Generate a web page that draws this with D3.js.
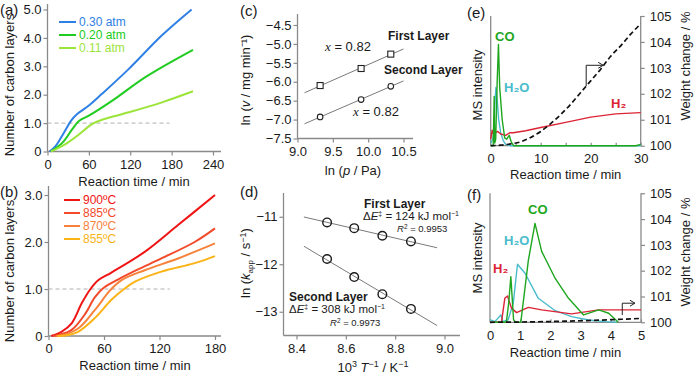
<!DOCTYPE html>
<html lang="en">
<head>
<meta charset="UTF-8">
<title>Carbon layer growth</title>
<style>
  body { margin: 0; background: #fff; }
  svg { display: block; font-family: "Liberation Sans", Arial, Helvetica, sans-serif; }
</style>
<script src="https://cdn.jsdelivr.net/npm/d3@7"></script>
</head>
<body>
<svg width="694" height="374"></svg>
<script>
// ---- (a) layers vs time at different pressures ----
var pressureLabels = ["0.30 atm", "0.20 atm", "0.11 atm"];
var layers030 = [[3,0],[12,0.2],[24,0.67],[34,1.08],[43,1.32],[60,1.62],[79,2.03],[118,2.91],[166,4.09],[209,5.0]];
var layers020 = [[5,0],[22,0.32],[36,0.79],[46,1.08],[60,1.26],[94,1.79],[142,2.62],[211,3.58]];
var layers011 = [[5,0],[26,0.26],[46,0.61],[65,0.97],[79,1.12],[118,1.38],[166,1.73],[211,2.12]];
var ticksA_x = [0, 60, 120, 180, 240];
var ticksA_y = [0, 1, 2, 3, 4, 5];

// ---- (b) layers vs time at different temperatures ----
var tempLabels = ["900\u00baC", "885\u00baC", "870\u00baC", "855\u00baC"];
var layers900 = [[3,0],[14,0.09],[25,0.27],[36,0.7],[45,0.99],[54,1.19],[68,1.35],[104,1.79],[140,2.36],[180,3.0]];
var layers885 = [[5,0],[11,0.02],[25,0.13],[40,0.48],[50,0.82],[60,1.03],[75,1.2],[95,1.4],[122,1.65],[158,2.0],[180,2.29]];
var layers870 = [[8,0],[14,0.01],[32,0.16],[50,0.55],[67,0.98],[79,1.19],[104,1.40],[140,1.65],[180,1.97]];
var layers855 = [[10,0],[18,0.01],[32,0.09],[50,0.38],[68,0.77],[81,0.99],[94,1.16],[122,1.37],[158,1.55],[180,1.70]];
var ticksB_x = [0, 60, 120, 180];
var ticksB_y = [0, 1, 2, 3];

// ---- (c) ln rate vs ln p ----
var lnP = [9.32, 9.9, 10.32];
var lnVFirst = [-6.1, -5.65, -5.27];
var lnVSecond = [-6.93, -6.47, -6.12];
var ticksC_x = [9.0, 9.5, 10.0, 10.5];
var ticksC_y = [-4.5, -5.0, -5.5, -6.0, -6.5, -7.0, -7.5];

// ---- (d) Arrhenius ----
var invT = [8.524, 8.634, 8.748, 8.864];
var lnKFirst = [-11.12, -11.24, -11.4, -11.52];
var lnKSecond = [-11.89, -12.27, -12.63, -12.94];
var ticksD_x = [8.4, 8.6, 8.8, 9.0];
var ticksD_y = [-11, -12, -13];

// ---- (e) MS + TG, 0-30 min (MS values as fraction of axis height) ----
var weightE = [[0,100],[2,100.02],[4,100.07],[6,100.15],[8,100.32],[10,100.55],[12,100.85],[14,101.2],[16,101.6],[18,102.05],[20,102.5],[22,102.95],[24,103.45],[26,103.85],[28,104.3],[30,104.7]];
var coE = [[0,0],[0.5,0],[0.7,0.38],[0.8,0.02],[1.0,0.05],[1.3,0.5],[1.55,0.78],[1.8,0.45],[2.3,0.2],[2.8,0.06],[3.2,0.05],[3.7,0.08],[4.1,0.03],[4.6,0],[29,0],[30,0.01]];
var h2oE = [[0,0.02],[0.4,0.05],[0.6,0.1],[0.8,0.3],[1.05,0.45],[1.3,0.35],[1.6,0.2],[2,0.1],[2.5,0.04],[3,0.01],[4,0],[30,0]];
var h2E = [[0,0.05],[0.3,0.12],[0.6,0.08],[1,0.1],[1.4,0.11],[2,0.09],[3,0.08],[3.8,0.1],[4.5,0.1],[7,0.115],[10,0.14],[15,0.18],[20,0.22],[25,0.245],[30,0.255]];

// ---- (f) MS + TG, 0-5 min ----
var weightF = [[0,100],[1,100.01],[2,100.03],[3,100.06],[4,100.1],[5,100.15]];
var coF = [[0,0],[0.54,0],[0.62,0.15],[0.69,0.354],[0.78,0.02],[0.85,0],[1.02,0],[1.27,0.48],[1.49,0.767],[1.71,0.55],[2.16,0.34],[2.6,0.186],[3.1,0.057],[3.6,0.096],[3.93,0.07],[4.25,0]];
var h2oF = [[0,0.02],[0.16,0.005],[0.36,0.057],[0.43,0.005],[0.6,0.02],[0.77,0.147],[0.91,0.45],[1.16,0.38],[1.6,0.186],[2.16,0.09],[2.7,0.044],[3.27,0.018],[3.8,0.005],[4.2,0]];
var h2F = [[0,0],[0.38,0],[0.49,0.186],[0.58,0.204],[0.71,0.11],[0.88,0.075],[1.27,0.116],[1.71,0.096],[2.7,0.065],[3.6,0.096],[5,0.096]];
var ticksW = [100, 101, 102, 103, 104, 105];

var svg = d3.select("svg");
var axisColor = "#8a8a8a";

function styleAxis(g) {
    g.select(".domain").remove();
    g.selectAll(".tick line").attr("stroke", axisColor).attr("stroke-width", 1.2);
    g.selectAll(".tick text").attr("fill", "#1a1a1a").style("font-size", "13px");
}

function axisLine(x1, y1, x2, y2) {
    svg.append("line").attr("x1", x1).attr("y1", y1).attr("x2", x2).attr("y2", y2)
        .attr("stroke", axisColor).attr("stroke-width", 1.3);
}

function label(txt, x, y, opts) {
    opts = opts || {};
    return svg.append("text").attr("x", x).attr("y", y)
        .style("font-size", (opts.size || 13) + "px")
        .attr("font-weight", opts.bold ? "bold" : null)
        .attr("fill", opts.color || "#1a1a1a")
        .attr("text-anchor", opts.anchor || "start")
        .text(txt);
}

function vTitle(x, y) {
    return svg.append("text")
        .attr("transform", "translate(" + x + "," + y + ") rotate(-90)")
        .attr("text-anchor", "middle")
        .style("font-size", "13px").attr("fill", "#1a1a1a");
}

function fit(xs, ys) {
    var mx = d3.mean(xs), my = d3.mean(ys);
    var sxy = d3.sum(xs, function(x, i) { return (x - mx) * (ys[i] - my); });
    var sxx = d3.sum(xs, function(x) { return (x - mx) * (x - mx); });
    var b = sxy / sxx;
    return function(x) { return my + b * (x - mx); };
}

// ================= (a) =================
(function() {
    var x = d3.scaleLinear().domain([0, 240]).range([47.5, 213]);
    var y = d3.scaleLinear().domain([0, 5]).range([151.5, 9.5]);
    axisLine(47.5, 4, 47.5, 151.5);
    axisLine(47.5, 151.5, 221, 151.5);
    svg.append("g").attr("transform", "translate(47.5,0)")
        .call(d3.axisLeft(y).tickValues(ticksA_y).tickSize(4).tickPadding(2)
            .tickFormat(function(d) { return d === 0 ? "0" : d3.format(".1f")(d); }))
        .call(styleAxis);
    svg.append("g").attr("transform", "translate(0,151.5)")
        .call(d3.axisBottom(x).tickValues(ticksA_x).tickSize(4).tickPadding(4))
        .call(styleAxis);

    svg.append("line").attr("x1", x(0)).attr("x2", x(177)).attr("y1", y(1)).attr("y2", y(1))
        .attr("stroke", "#b0b0b0").attr("stroke-dasharray", "4,3");

    var line = d3.line().x(function(d) { return x(d[0]); }).y(function(d) { return y(d[1]); })
        .curve(d3.curveCatmullRom.alpha(0.5));
    var series = [layers030, layers020, layers011];
    var colors = ["#2f80e4", "#20cc20", "#9be43a"];
    series.forEach(function(s, i) {
        svg.append("path").datum(s).attr("d", line).attr("fill", "none")
            .attr("stroke", colors[i]).attr("stroke-width", 2);
        svg.append("line").attr("x1", 59).attr("x2", 76).attr("y1", 22 + i * 13).attr("y2", 22 + i * 13)
            .attr("stroke", colors[i]).attr("stroke-width", 2);
        label(pressureLabels[i], 79, 26.2 + i * 13, { color: colors[i], size: 12 });
    });

    label("(a)", 0, 15, { size: 15 });
    vTitle(14, 85).text("Number of carbon layers");
    label("Reaction time / min", 134, 186, { anchor: "middle" });
})();

// ================= (b) =================
(function() {
    var x = d3.scaleLinear().domain([0, 180]).range([48.5, 215]);
    var y = d3.scaleLinear().domain([0, 3]).range([336, 195]);
    axisLine(48.5, 186, 48.5, 336);
    axisLine(48.5, 336, 221, 336);
    svg.append("g").attr("transform", "translate(48.5,0)")
        .call(d3.axisLeft(y).tickValues(ticksB_y).tickSize(4).tickPadding(2)
            .tickFormat(function(d) { return d === 0 ? "0" : d3.format(".1f")(d); }))
        .call(styleAxis);
    svg.append("g").attr("transform", "translate(0,336)")
        .call(d3.axisBottom(x).tickValues(ticksB_x).tickSize(4).tickPadding(4))
        .call(styleAxis);

    svg.append("line").attr("x1", x(0)).attr("x2", x(131)).attr("y1", y(1)).attr("y2", y(1))
        .attr("stroke", "#b0b0b0").attr("stroke-dasharray", "4,3");

    var line = d3.line().x(function(d) { return x(d[0]); }).y(function(d) { return y(d[1]); })
        .curve(d3.curveCatmullRom.alpha(0.5));
    var series = [layers900, layers885, layers870, layers855];
    var colors = ["#f01414", "#f24a2a", "#f7823c", "#fbb316"];
    series.forEach(function(s, i) {
        svg.append("path").datum(s).attr("d", line).attr("fill", "none")
            .attr("stroke", colors[i]).attr("stroke-width", 2);
        svg.append("line").attr("x1", 64).attr("x2", 80).attr("y1", 200 + i * 13).attr("y2", 200 + i * 13)
            .attr("stroke", colors[i]).attr("stroke-width", 2);
        label(tempLabels[i], 83, 204.2 + i * 13, { color: colors[i], size: 12 });
    });

    label("(b)", 0, 197, { size: 15 });
    vTitle(14, 271).text("Number of carbon layers");
    label("Reaction time / min", 135, 370, { anchor: "middle" });
})();

// ================= (c) =================
(function() {
    var x = d3.scaleLinear().domain([9.0, 10.5]).range([297.5, 403.5]);
    var y = d3.scaleLinear().domain([-7.5, -4.5]).range([138.5, 25]);
    axisLine(297.5, 14, 297.5, 138.5);
    axisLine(297.5, 138.5, 413, 138.5);
    svg.append("g").attr("transform", "translate(297.5,0)")
        .call(d3.axisLeft(y).tickValues(ticksC_y).tickSize(4).tickPadding(2).tickFormat(d3.format(".1f")))
        .call(styleAxis);
    svg.append("g").attr("transform", "translate(0,138.5)")
        .call(d3.axisBottom(x).tickValues(ticksC_x).tickSize(4).tickPadding(4).tickFormat(d3.format(".1f")))
        .call(styleAxis);

    [lnVFirst, lnVSecond].forEach(function(ys) {
        var f = fit(lnP, ys);
        svg.append("line").attr("x1", x(9.1)).attr("y1", y(f(9.1))).attr("x2", x(10.5)).attr("y2", y(f(10.5)))
            .attr("stroke", "#7a7a7a").attr("stroke-width", 1);
    });
    svg.selectAll(".sq").data(lnP.map(function(p, i) { return [p, lnVFirst[i]]; })).enter()
        .append("rect").attr("x", function(d) { return x(d[0]) - 3; }).attr("y", function(d) { return y(d[1]) - 3; })
        .attr("width", 6).attr("height", 6).attr("fill", "#fff").attr("stroke", "#222").attr("stroke-width", 1.1);
    svg.selectAll(".ci").data(lnP.map(function(p, i) { return [p, lnVSecond[i]]; })).enter()
        .append("circle").attr("cx", function(d) { return x(d[0]); }).attr("cy", function(d) { return y(d[1]); })
        .attr("r", 2.8).attr("fill", "#fff").attr("stroke", "#222").attr("stroke-width", 1.1);

    [[325, 51], [353, 116]].forEach(function(p) {
        var t = label("", p[0], p[1]);
        t.append("tspan").attr("font-family", "'Liberation Serif', serif").attr("font-style", "italic").text("x");
        t.append("tspan").text(" = 0.82");
    });
    label("First Layer", 388, 40, { size: 12, bold: true });
    label("Second Layer", 384, 74, { size: 12, bold: true });

    label("(c)", 240, 16, { size: 15 });
    var t = vTitle(250, 80);
    t.append("tspan").text("ln (");
    t.append("tspan").attr("font-style", "italic").text("v");
    t.append("tspan").text(" / mg min\u207B\u00B9)");
    var xt = label("", 353, 175, { anchor: "middle" });
    xt.append("tspan").text("ln (");
    xt.append("tspan").attr("font-style", "italic").text("p");
    xt.append("tspan").text(" / Pa)");
})();

// ================= (d) =================
(function() {
    var x = d3.scaleLinear().domain([8.4, 9.0]).range([296.5, 444.5]);
    var y = d3.scaleLinear().domain([-13.5, -10.5]).range([335.5, 193]);
    axisLine(283.5, 193, 283.5, 335.5);
    axisLine(283.5, 335.5, 460, 335.5);
    svg.append("g").attr("transform", "translate(283.5,0)")
        .call(d3.axisLeft(y).tickValues(ticksD_y).tickSize(4).tickPadding(2).tickFormat(d3.format("d")))
        .call(styleAxis);
    svg.append("g").attr("transform", "translate(0,335.5)")
        .call(d3.axisBottom(x).tickValues(ticksD_x).tickSize(4).tickPadding(4).tickFormat(d3.format(".1f")))
        .call(styleAxis);

    [lnKFirst, lnKSecond].forEach(function(ys) {
        var f = fit(invT, ys);
        svg.append("line").attr("x1", x(8.43)).attr("y1", y(f(8.43))).attr("x2", x(8.97)).attr("y2", y(f(8.97)))
            .attr("stroke", "#7a7a7a").attr("stroke-width", 1);
        svg.append("g").selectAll("circle").data(invT.map(function(v, i) { return [v, ys[i]]; })).enter()
            .append("circle").attr("cx", function(d) { return x(d[0]); }).attr("cy", function(d) { return y(d[1]); })
            .attr("r", 4.3).attr("fill", "none").attr("stroke", "#1a1a1a").attr("stroke-width", 1.4);
    });

    function energy(x0, y0, val) {
        var t = label("", x0, y0, { size: 11.5 });
        t.append("tspan").text("\u0394");
        t.append("tspan").attr("font-style", "italic").text("E");
        t.append("tspan").attr("font-size", "7px").attr("dy", -4).text("\u2021");
        t.append("tspan").attr("dy", 4).text(" = " + val + " kJ mol");
        t.append("tspan").attr("font-size", "7px").attr("dy", -4).text("\u22121");
    }
    function r2(x0, y0, val) {
        var t = label("", x0, y0, { size: 9.5 });
        t.append("tspan").attr("font-style", "italic").text("R");
        t.append("tspan").attr("font-size", "6.5px").attr("dy", -3).text("2");
        t.append("tspan").attr("dy", 3).text(" = " + val);
    }
    label("First Layer", 364, 208, { size: 12, bold: true });
    energy(363, 220, "124");
    r2(397, 232, "0.9953");
    label("Second Layer", 289, 301, { size: 12, bold: true });
    energy(289, 313, "308");
    r2(330, 326, "0.9973");

    label("(d)", 240, 197, { size: 15 });
    var t = vTitle(250, 263);
    t.append("tspan").text("ln (");
    t.append("tspan").attr("font-style", "italic").text("k");
    t.append("tspan").attr("font-size", "8px").attr("dy", 3).text("app");
    t.append("tspan").attr("dy", -3).text(" / s");
    t.append("tspan").attr("font-size", "9px").attr("dy", -4).text("\u22121");
    t.append("tspan").attr("dy", 4).text(")");
    var xt = label("", 373, 372, { anchor: "middle" });
    xt.append("tspan").text("10");
    xt.append("tspan").attr("font-size", "9px").attr("dy", -5).text("3");
    xt.append("tspan").attr("dy", 5).text(" ");
    xt.append("tspan").attr("font-style", "italic").text("T");
    xt.append("tspan").attr("font-size", "9px").attr("dy", -5).text("\u22121");
    xt.append("tspan").attr("dy", 5).text(" / K");
    xt.append("tspan").attr("font-size", "9px").attr("dy", -5).text("\u22121");
})();

// ================= (e) & (f) =================
function msPanel(cfg) {
    var x = d3.scaleLinear().domain([0, cfg.tMax]).range([cfg.x0, cfg.x1]);
    var yW = d3.scaleLinear().domain([100, 105]).range([cfg.y0, cfg.y1]);
    var yM = d3.scaleLinear().domain([0, 1]).range([cfg.y0, cfg.y1]);
    axisLine(cfg.x0, cfg.y1, cfg.x0, cfg.y0);
    axisLine(cfg.x1, cfg.y1, cfg.x1, cfg.y0);
    axisLine(cfg.x0, cfg.y0, cfg.x1, cfg.y0);
    svg.append("g").attr("transform", "translate(" + cfg.x1 + ",0)")
        .call(d3.axisRight(yW).tickValues(ticksW).tickSize(4).tickPadding(5).tickFormat(d3.format("d")))
        .call(styleAxis);
    svg.append("g").attr("transform", "translate(0," + cfg.y0 + ")")
        .call(d3.axisBottom(x).tickValues(cfg.minor).tickSize(-3).tickFormat(""))
        .call(styleAxis);
    svg.append("g").attr("transform", "translate(0," + cfg.y0 + ")")
        .call(d3.axisBottom(x).tickValues(cfg.major).tickSize(0).tickPadding(8).tickFormat(d3.format("d")))
        .call(styleAxis);

    var ms = d3.line().x(function(d) { return x(d[0]); }).y(function(d) { return yM(d[1]); });
    [[cfg.h2o, "#48bccc"], [cfg.h2, "#dc2436"], [cfg.co, "#1ea61e"]].forEach(function(s) {
        svg.append("path").datum(s[0]).attr("d", ms).attr("fill", "none")
            .attr("stroke", s[1]).attr("stroke-width", 1.4).attr("stroke-linejoin", "round");
    });
    svg.append("path").datum(cfg.weight)
        .attr("d", d3.line().x(function(d) { return x(d[0]); }).y(function(d) { return yW(d[1]); }).curve(d3.curveMonotoneX))
        .attr("fill", "none").attr("stroke", "#111").attr("stroke-width", 1.7).attr("stroke-dasharray", "5,3");

    var a = cfg.arrow;
    svg.append("path")
        .attr("d", "M" + x(a[0]) + "," + yW(a[1]) + "V" + yW(a[2]) + "H" + x(a[3]))
        .attr("fill", "none").attr("stroke", "#222").attr("stroke-width", 1);
    svg.append("path")
        .attr("d", "M" + (x(a[3]) - 5) + "," + (yW(a[2]) - 3) + "L" + x(a[3]) + "," + yW(a[2]) + "L" + (x(a[3]) - 5) + "," + (yW(a[2]) + 3))
        .attr("fill", "none").attr("stroke", "#222").attr("stroke-width", 1);

    label("CO", cfg.coLab[0], cfg.coLab[1], { size: 13, bold: true, color: "#1ea61e" });
    label("H\u2082O", cfg.h2oLab[0], cfg.h2oLab[1], { size: 13, bold: true, color: "#48bccc" });
    label("H\u2082", cfg.h2Lab[0], cfg.h2Lab[1], { size: 13, bold: true, color: "#dc2436" });

    label(cfg.tag, 467, cfg.tagY, { size: 15 });
    vTitle(482, cfg.msY).text("MS intensity");
    vTitle(690, cfg.wY).text("Weight change / %");
    label("Reaction time / min", (cfg.x0 + cfg.x1) / 2, cfg.titleY, { anchor: "middle" });
}

msPanel({
    tMax: 30, x0: 490.7, x1: 640.7, y0: 145.7, y1: 16,
    minor: [5, 10, 15, 20, 25, 30], major: [0, 10, 20, 30],
    weight: weightE, co: coE, h2o: h2oE, h2: h2E,
    arrow: [19.1, 102.3, 103.1, 22.5],
    coLab: [495, 41], h2oLab: [504, 92], h2Lab: [611, 108],
    tag: "(e)", tagY: 18, msY: 85, wY: 66, titleY: 179
});
msPanel({
    tMax: 5, x0: 490, x1: 641, y0: 322.3, y1: 193.3,
    minor: [1, 2, 3, 4, 5], major: [0, 1, 2, 3, 4, 5],
    weight: weightF, co: coF, h2o: h2oF, h2: h2F,
    arrow: [4.38, 100.28, 100.74, 4.8],
    coLab: [528, 214], h2oLab: [504, 245], h2Lab: [493, 273],
    tag: "(f)", tagY: 200, msY: 258, wY: 252, titleY: 357
});
</script>
</body>
</html>
